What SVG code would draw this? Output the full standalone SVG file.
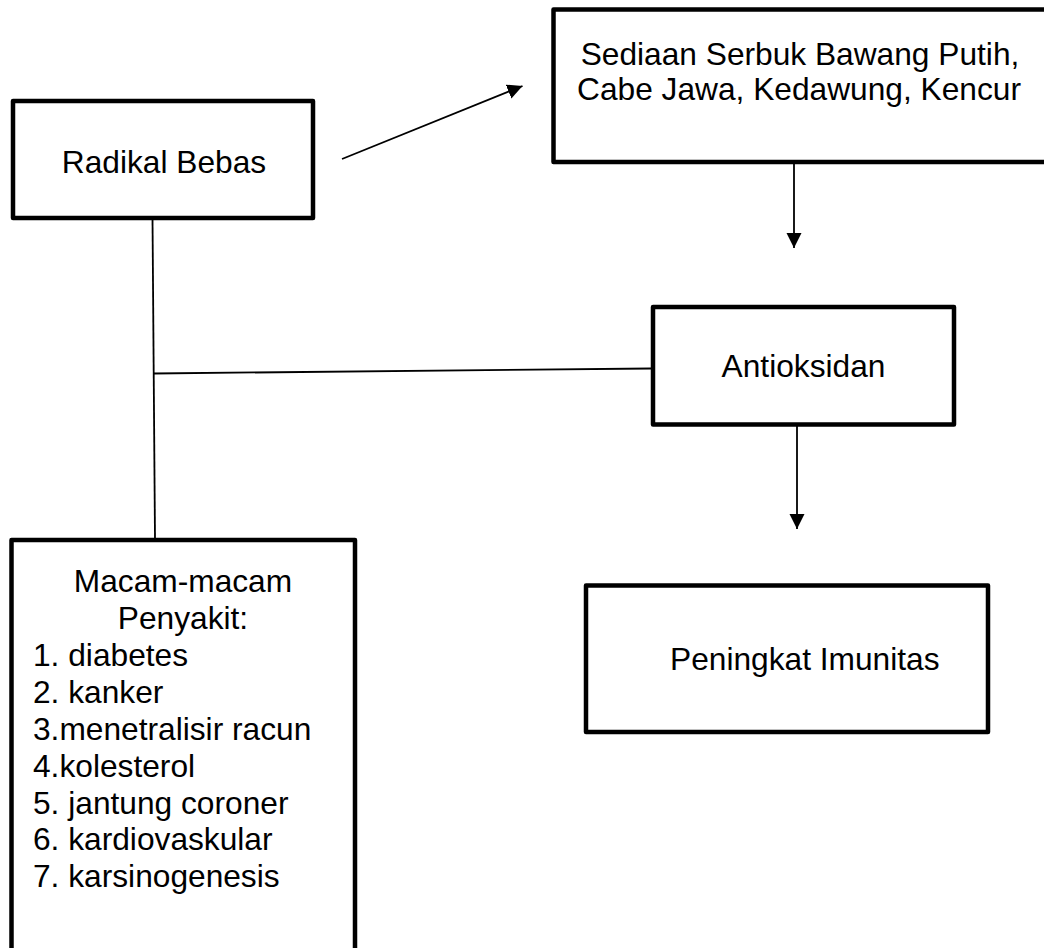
<svg xmlns="http://www.w3.org/2000/svg" width="1044" height="948" viewBox="0 0 1044 948">
<style>
.box{fill:#fff;stroke:#000;stroke-width:4.5;stroke-linejoin:round}
.lbl{font-family:"Liberation Sans",Arial,sans-serif;font-size:31.7px;fill:#000}
.c{text-anchor:middle}
.conn{stroke:#000;stroke-width:1.8;fill:none}
</style>
<defs>
<marker id="ah" markerUnits="userSpaceOnUse" markerWidth="16" markerHeight="16" refX="15" refY="7.5" orient="auto">
<path d="M0,0 L15,7.5 L0,15 z" fill="#000"/>
</marker>
</defs>
<rect width="1044" height="948" fill="#fff"/>
<g id="connectors">
<line class="conn" x1="342" y1="159" x2="522.5" y2="86" marker-end="url(#ah)"/>
<line class="conn" x1="794" y1="162" x2="794" y2="248" marker-end="url(#ah)"/>
<line class="conn" x1="797" y1="425" x2="797" y2="529" marker-end="url(#ah)"/>
<line class="conn" x1="152.5" y1="218" x2="155" y2="540"/>
<line class="conn" x1="154" y1="373.5" x2="651" y2="368.5"/>
</g>
<g id="radikal">
<rect class="box" x="13" y="101" width="300" height="117"/>
<text class="lbl c" x="164" y="172.5">Radikal Bebas</text>
</g>
<g id="sediaan">
<rect class="box" x="553.5" y="9.5" width="520" height="152.5"/>
<text class="lbl c" x="800" y="65">Sediaan Serbuk Bawang Putih,</text>
<text class="lbl c" x="799" y="99.5">Cabe Jawa, Kedawung, Kencur</text>
</g>
<g id="antioksidan">
<rect class="box" x="653" y="307" width="301" height="117.5"/>
<text class="lbl c" x="803.5" y="377">Antioksidan</text>
</g>
<g id="peningkat">
<rect class="box" x="586" y="585.5" width="402" height="146.5"/>
<text class="lbl" x="670" y="670">Peningkat Imunitas</text>
</g>
<g id="penyakit">
<rect class="box" x="11.5" y="540" width="343.5" height="430"/>
<text class="lbl c" x="183" y="592">Macam-macam</text>
<text class="lbl c" x="183" y="628.5">Penyakit:</text>
<text class="lbl" x="33" y="666">1. diabetes</text>
<text class="lbl" x="33" y="703">2. kanker</text>
<text class="lbl" x="33" y="740">3.menetralisir racun</text>
<text class="lbl" x="33" y="777">4.kolesterol</text>
<text class="lbl" x="33" y="813.5">5. jantung coroner</text>
<text class="lbl" x="33" y="850">6. kardiovaskular</text>
<text class="lbl" x="33" y="887">7. karsinogenesis</text>
</g>
</svg>
